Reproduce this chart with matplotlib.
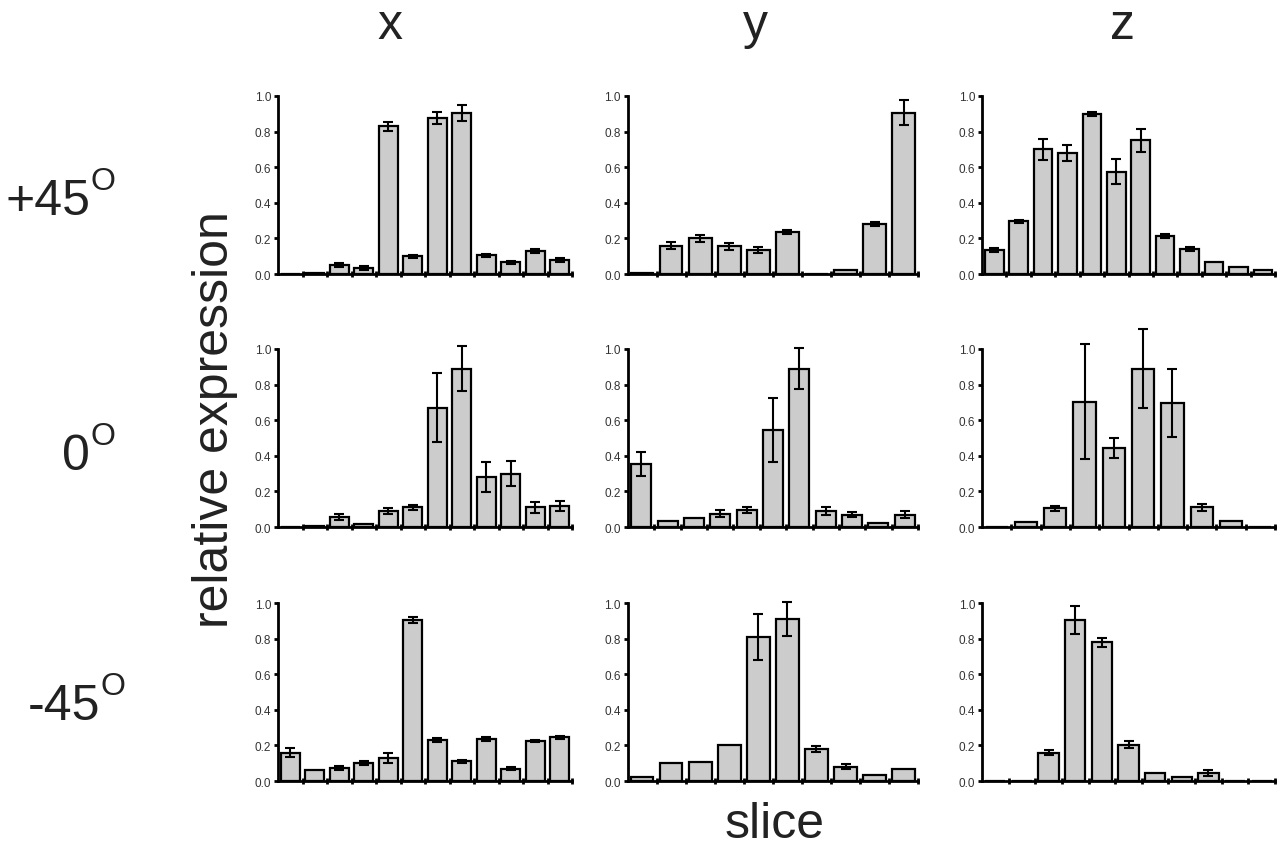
# ================================
# 1. IMPORT LIBRARIES
# ================================
import numpy as np
import matplotlib
matplotlib.use("Agg")
import matplotlib.pyplot as plt

plt.rcParams['font.family'] = ['Liberation Sans', 'DejaVu Sans']

# ================================
# 2. DATA
# ================================
col_titles = ["x", "y", "z"]
row_titles = ["+45", "0", "-45"]

# +45 deg row
x_p45 = [0, 0.005, 0.05, 0.035, 0.83, 0.10, 0.875, 0.905, 0.105, 0.065, 0.13, 0.08]
x_p45_err = [0, 0, 0.012, 0.01, 0.025, 0.008, 0.035, 0.045, 0.01, 0.008, 0.01, 0.01]
y_p45 = [0.005, 0.16, 0.20, 0.155, 0.135, 0.235, 0, 0.02, 0.28, 0.905]
y_p45_err = [0, 0.02, 0.02, 0.02, 0.015, 0.012, 0, 0, 0.012, 0.07]
z_p45 = [0.135, 0.295, 0.70, 0.68, 0.90, 0.575, 0.75, 0.215, 0.14, 0.065, 0.04, 0.02]
z_p45_err = [0.012, 0.01, 0.06, 0.045, 0.012, 0.07, 0.065, 0.012, 0.012, 0, 0, 0]

# 0 deg row
x_0 = [0, 0.005, 0.055, 0.015, 0.09, 0.11, 0.67, 0.89, 0.28, 0.30, 0.11, 0.12]
x_0_err = [0, 0, 0.018, 0, 0.015, 0.013, 0.195, 0.125, 0.085, 0.07, 0.03, 0.028]
y_0 = [0.355, 0.035, 0.05, 0.075, 0.095, 0.545, 0.89, 0.09, 0.07, 0.025, 0.07]
y_0_err = [0.068, 0, 0, 0.02, 0.015, 0.18, 0.115, 0.02, 0.015, 0, 0.02]
z_0 = [0, 0.03, 0.105, 0.705, 0.445, 0.89, 0.695, 0.11, 0.035, 0]
z_0_err = [0, 0, 0.015, 0.325, 0.055, 0.22, 0.19, 0.02, 0, 0]

# -45 deg row
x_m45 = [0.16, 0.06, 0.075, 0.10, 0.13, 0.905, 0.23, 0.11, 0.235, 0.07, 0.225, 0.245]
x_m45_err = [0.025, 0, 0.012, 0.012, 0.028, 0.015, 0.013, 0.01, 0.01, 0.008, 0.008, 0.01]
y_m45 = [0.02, 0.10, 0.105, 0.20, 0.81, 0.91, 0.18, 0.08, 0.035, 0.07]
y_m45_err = [0, 0, 0, 0, 0.13, 0.095, 0.015, 0.015, 0, 0]
z_m45 = [0, 0, 0.16, 0.905, 0.78, 0.205, 0.045, 0.02, 0.045, 0, 0]
z_m45_err = [0, 0, 0.012, 0.08, 0.025, 0.02, 0, 0, 0.015, 0, 0]

panels = [
    [(x_p45, x_p45_err), (y_p45, y_p45_err), (z_p45, z_p45_err)],
    [(x_0, x_0_err), (y_0, y_0_err), (z_0, z_0_err)],
    [(x_m45, x_m45_err), (y_m45, y_m45_err), (z_m45, z_m45_err)],
]

# ================================
# 3. LAYOUT
# ================================
fig = plt.figure(figsize=(12.8, 8.53), dpi=100)

col_left = [0.2172, 0.4906, 0.7672]
col_width = [0.2297, 0.2266, 0.2289]
row_bottom = [0.6776, 0.381, 0.0832]
row_height = 0.2087

# ================================
# 4. PANELS
# ================================
for r in range(3):
    for c in range(3):
        vals, errs = panels[r][c]
        vals = np.array(vals)
        errs = np.array(errs)
        n = len(vals)
        pos = np.arange(n) + 0.5

        ax = fig.add_axes([col_left[c], row_bottom[r], col_width[c], row_height])
        ax.bar(pos, vals, width=0.76, color="#cccccc", edgecolor="black",
               linewidth=1.6, zorder=2)
        m = errs > 0
        ax.errorbar(pos[m], vals[m], yerr=errs[m], fmt="none", ecolor="black",
                    elinewidth=1.5, capsize=3.5, capthick=1.5, clip_on=False,
                    zorder=3)

        ax.set_xlim(0, n)
        ax.set_ylim(0, 1.0)
        ax.set_xticks(np.arange(1, n + 1))
        ax.set_xticklabels([])
        ax.set_yticks([0, 0.2, 0.4, 0.6, 0.8, 1.0])
        ax.set_yticklabels(["0.0", "0.2", "0.4", "0.6", "0.8", "1.0"])

        for s in ["top", "right"]:
            ax.spines[s].set_visible(False)
        for s in ["left", "bottom"]:
            ax.spines[s].set_linewidth(2)
        ax.tick_params(axis="y", direction="out", length=3, width=2,
                       labelsize=8.5, labelcolor="#333333", pad=2)
        ax.tick_params(axis="x", direction="inout", length=5, width=2)

# ================================
# 5. LABELS
# ================================
col_x = [390 / 1280, 755 / 1280, 1123 / 1280]
for c in range(3):
    fig.text(col_x[c], 1 - 39 / 853, col_titles[c], fontsize=36,
             ha="center", va="baseline", color="#222222")

# row labels: number plus a raised "O" (degree)
row_y = [215, 470, 720]
row_sup_x = [91, 91, 101]
for r in range(3):
    fig.text((row_sup_x[r] - 1) / 1280, 1 - row_y[r] / 853, row_titles[r],
             fontsize=36, ha="right", va="baseline", color="#222222")
    fig.text(row_sup_x[r] / 1280, 1 - (row_y[r] - 25) / 853, "O",
             fontsize=23, ha="left", va="baseline", color="#222222")

fig.text(215 / 1280, 1 - 420 / 853, "relative expression", fontsize=36,
         rotation=90, ha="center", va="center", color="#222222")
fig.text(775 / 1280, 1 - 825 / 853, "slice", fontsize=36,
         ha="center", va="center", color="#222222")

plt.savefig("out.png", dpi=100)
